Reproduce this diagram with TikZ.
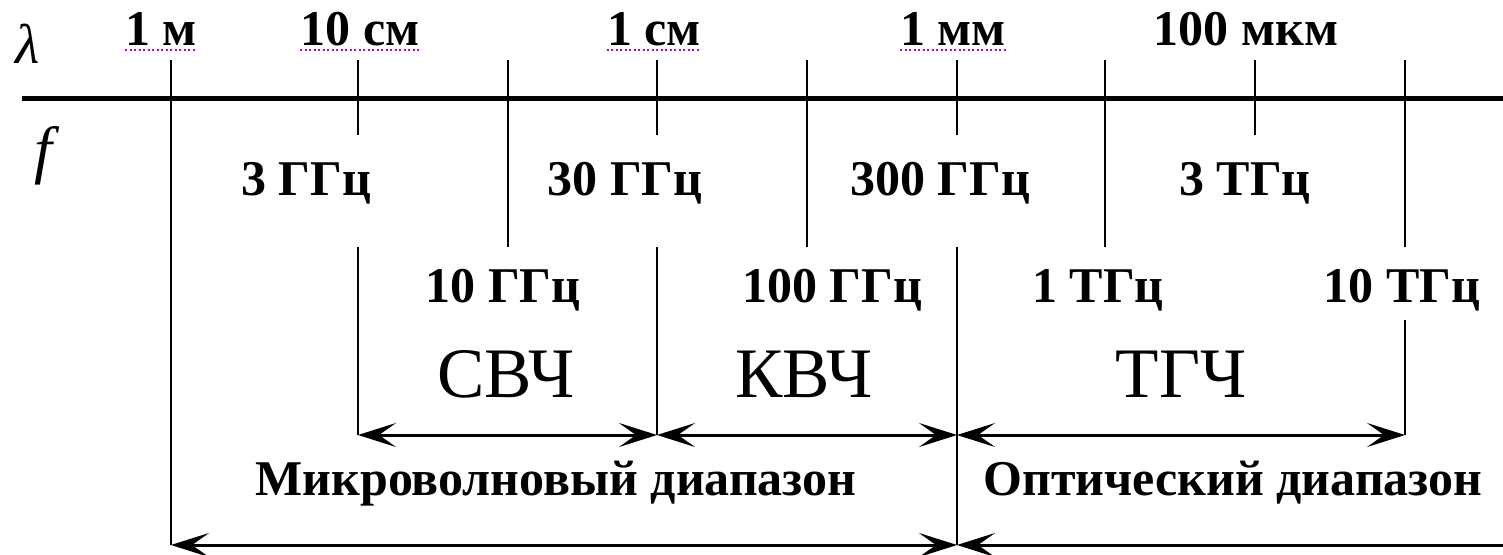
\documentclass[tikz,border=0pt]{standalone}
\usepackage{fontspec}
\setmainfont{Liberation Serif}
\usetikzlibrary{arrows.meta}
\begin{document}
\begin{tikzpicture}[x=1pt,y=-1pt,
  >={Stealth[length=38pt,width=24pt,inset=17pt]},
  lbl/.style={font=\fontsize{50}{50}\selectfont\bfseries, inner sep=0pt, anchor=base},
  band/.style={font=\fontsize{71}{71}\selectfont, inner sep=0pt, anchor=base},
  sym/.style={inner sep=0pt},
  axis/.style={line width=5pt},
  tickline/.style={line width=2.5pt},
  dbl/.style={line width=3pt},
  spell/.style={draw=violet!55!magenta, line width=1.5pt, dash pattern=on 2pt off 2.5pt}]
\useasboundingbox (0,0) rectangle (1503,554);
% coordinates
\coordinate (L) at (22,98); \coordinate (R) at (1503,98);
\coordinate (a1t) at (171,60);  \coordinate (a1b) at (171,545);
\coordinate (a2t) at (358,60);  \coordinate (a2m) at (358,135); \coordinate (a2u) at (358,247); \coordinate (a2b) at (358,435);
\coordinate (a3t) at (508,60);  \coordinate (a3b) at (508,247);
\coordinate (a4t) at (657,60);  \coordinate (a4m) at (657,135); \coordinate (a4u) at (657,247); \coordinate (a4b) at (657,435);
\coordinate (a5t) at (807,60);  \coordinate (a5b) at (807,247);
\coordinate (a6t) at (957,60);  \coordinate (a6m) at (957,135); \coordinate (a6u) at (957,247); \coordinate (a6a) at (957,435); \coordinate (a6b) at (957,545);
\coordinate (a7t) at (1105,60); \coordinate (a7b) at (1105,247);
\coordinate (a8t) at (1255,60); \coordinate (a8m) at (1255,135);
\coordinate (a9t) at (1405,60); \coordinate (a9m) at (1405,247); \coordinate (a9u) at (1405,320); \coordinate (a9b) at (1405,435);
\coordinate (E) at (1503,545);
% axis
\draw[axis] (L) -- (R);
% vertical lines
\draw[tickline] (a1t) -- (a1b);
\draw[tickline] (a2t) -- (a2m); \draw[tickline] (a2u) -- (a2b);
\draw[tickline] (a3t) -- (a3b);
\draw[tickline] (a4t) -- (a4m); \draw[tickline] (a4u) -- (a4b);
\draw[tickline] (a5t) -- (a5b);
\draw[tickline] (a6t) -- (a6m); \draw[tickline] (a6u) -- (a6b);
\draw[tickline] (a7t) -- (a7b);
\draw[tickline] (a8t) -- (a8m);
\draw[tickline] (a9t) -- (a9m); \draw[tickline] (a9u) -- (a9b);
% arrows
\draw[dbl,<->] (a2b) -- (a4b);
\draw[dbl,<->] (a4b) -- (a6a);
\draw[dbl,<->] (a6a) -- (a9b);
\draw[dbl,<->] (a1b) -- (a6b);
\draw[dbl,<-] (a6b) -- (E);
% symbols
\node[sym, font=\fontsize{56}{56}\selectfont\itshape] (lam) at (28,44) {λ};
\node[sym, font=\fontsize{64}{64}\selectfont\itshape] (f) at (43,156) {f};
% wavelength labels
\node[lbl] (w1) at (161,45) {1 м};
\node[lbl] (w2) at (360,45) {10 см};
\node[lbl] (w3) at (654,45) {1 см};
\node[lbl] (w4) at (953,45) {1 мм};
\node[lbl] (w5) at (1246,45) {100 мкм};
\draw[spell] ([yshift=-5pt]w1.base west) -- ([yshift=-5pt]w1.base east);
\draw[spell] ([yshift=-5pt]w2.base west) -- ([yshift=-5pt]w2.base east);
\draw[spell] ([yshift=-5pt]w3.base west) -- ([yshift=-5pt]w3.base east);
\draw[spell] ([yshift=-5pt]w4.base west) -- ([yshift=-5pt]w4.base east);
% frequency labels row 1
\node[lbl] (f1) at (306,195) {3 ГГц};
\node[lbl] (f2) at (625,195) {30 ГГц};
\node[lbl] (f3) at (940,195) {300 ГГц};
\node[lbl] (f4) at (1245,195) {3 ТГц};
% frequency labels row 2
\node[lbl] (g1) at (503,302) {10 ГГц};
\node[lbl] (g2) at (832,302) {100 ГГц};
\node[lbl] (g3) at (1098,302) {1 ТГц};
\node[lbl] (g4) at (1402,302) {10 ТГц};
% bands
\node[band] (b1) at (506,397) {СВЧ};
\node[band] (b2) at (804,397) {КВЧ};
\node[band] (b3) at (1181,397) {ТГЧ};
% ranges
\node[lbl] (r1) at (556,495) {Микроволновый диапазон};
\node[lbl] (r2) at (1233,495) {Оптический диапазон};
\end{tikzpicture}
\end{document}
